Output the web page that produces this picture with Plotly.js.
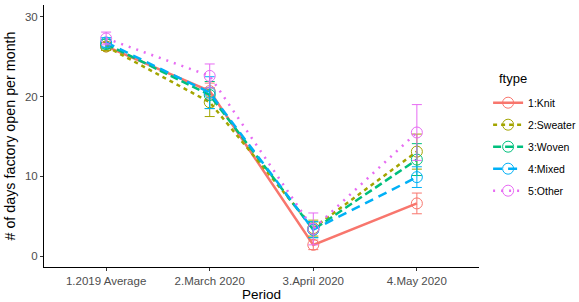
<!DOCTYPE html>
<html><head><meta charset="utf-8">
<script src="https://cdn.plot.ly/plotly-3.0.1.min.js"></script>
<style>html,body{margin:0;padding:0;background:#fff}#c{width:579px;height:302px}</style>
</head><body><div id="c"></div>
<script>
const periods = ["1.2019 Average", "2.March 2020", "3.April 2020", "4.May 2020"];
const seriesNames = ["1:Knit", "2:Sweater", "3:Woven", "4:Mixed", "5:Other"];
const legendTitle = "ftype";
const knit = [26.3, 20.7, 1.4, 6.6];
const sweater = [26.3, 19.3, 3.5, 13.1];
const woven = [26.6, 20.2, 3.3, 12.1];
const mixed = [26.8, 20.5, 3.3, 9.9];
const other = [27.3, 22.6, 3.4, 15.5];
const knitErr = [0.5, 1.0, 0.6, 1.3];
const sweaterErr = [0.5, 1.8, 1.0, 2.2];
const wovenErr = [0.6, 1.7, 1.0, 2.0];
const mixedErr = [0.6, 2.0, 1.0, 1.3];
const otherErr = [0.8, 1.5, 2.0, 3.5];

const colors = ["#F8766D", "#A3A500", "#00BF7D", "#00B0F6", "#E76BF3"];
const dashes = ["solid", "4px,4px", "8px,4px", "9px,6px", "2px,6px"];
const vals = [knit, sweater, woven, mixed, other];
const errs = [knitErr, sweaterErr, wovenErr, mixedErr, otherErr];

const traces = seriesNames.map((n, i) => ({
  type: "scatter", mode: "lines+markers", name: n,
  legendgroup: "g" + i,
  x: [0, 1, 2, 3], y: vals[i],
  line: {color: colors[i], width: 2.5, dash: dashes[i]},
  marker: {symbol: "circle-open", size: 11, color: colors[i], line: {width: 1, color: colors[i]}},
  error_y: {type: "data", array: errs[i], visible: true, color: colors[i], thickness: 1, width: 5}
}));

const layout = {
  width: 579, height: 302,
  margin: {l: 44, r: 100, t: 5, b: 35},
  paper_bgcolor: "#fff", plot_bgcolor: "#fff",
  font: {family: "Liberation Sans, Arial, sans-serif", size: 11, color: "#000"},
  xaxis: {
    range: [-0.6, 3.6], tickvals: [0, 1, 2, 3], ticktext: periods,
    showgrid: false, zeroline: false, showline: true, linecolor: "#000", linewidth: 1,
    ticks: "outside", ticklen: 3, tickcolor: "#333",
    tickfont: {size: 11.5, color: "#4d4d4d"},
    title: {text: "Period", font: {size: 13.5}, standoff: 2}
  },
  yaxis: {
    range: [-1.38, 31.5], tickvals: [0, 10, 20, 30],
    showgrid: false, zeroline: false, showline: true, linecolor: "#000", linewidth: 1,
    ticks: "outside", ticklen: 3, tickcolor: "#333",
    tickfont: {size: 11.5, color: "#4d4d4d"},
    title: {text: "# of days factory open per month", font: {size: 14.3}, standoff: 5}
  },
  legend: {
    xref: "container", yref: "container",
    x: 0.843, xanchor: "left", y: 0.708, yanchor: "top",
    font: {size: 10.5}, tracegroupgap: 3, bgcolor: "rgba(0,0,0,0)"
  },
  annotations: [{
    text: legendTitle, xref: "paper", yref: "paper", x: 1.041, y: 0.7176,
    xanchor: "left", yanchor: "middle", showarrow: false, font: {size: 13, color: "#000"}
  }],
  showlegend: true
};
Plotly.newPlot("c", traces, layout, {displayModeBar: false, staticPlot: true});
</script></body></html>
